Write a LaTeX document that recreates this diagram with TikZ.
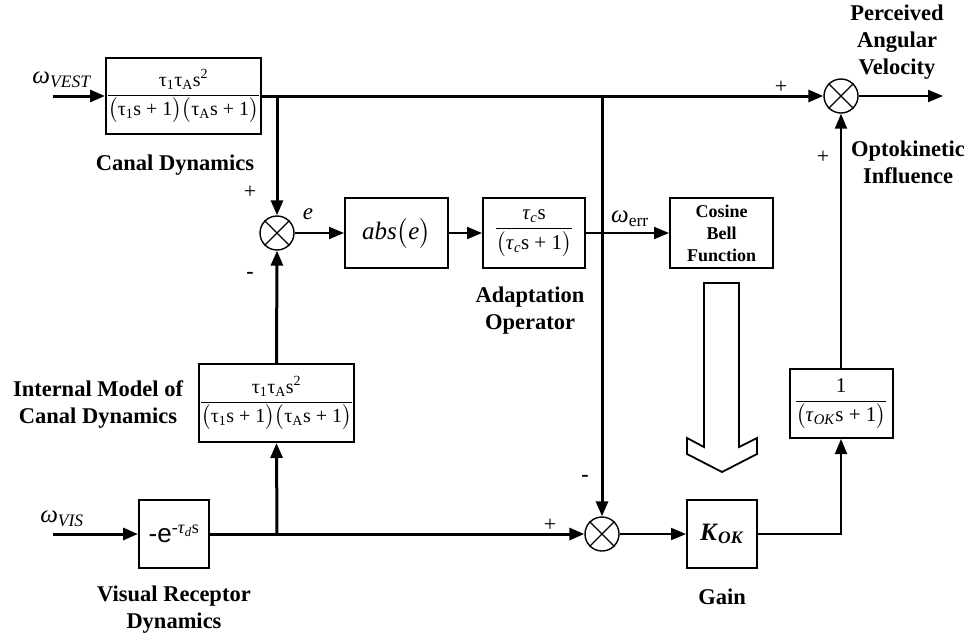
\documentclass[tikz,border=0pt]{standalone}
\usepackage{fontspec}
\usepackage{amsmath}
\setmainfont{Liberation Serif}
\newfontfamily\sansf{Liberation Sans}
\usetikzlibrary{arrows.meta}
\newcommand\myfr[2]{$\displaystyle\frac{#1}{#2}$}
\tikzset{
 blk/.style={draw, line width=2pt, inner sep=0pt, align=center},
 sumc/.style={draw, circle, line width=1.4pt, minimum size=34pt, inner sep=0pt},
 thk/.style={line width=3pt},
 thn/.style={line width=2pt},
 arr/.style={-{Triangle[length=15pt,width=12pt]}},
 lbl/.style={font=\fontsize{22.5}{27}\selectfont\bfseries, align=center, inner sep=0pt},
 sgn/.style={font=\fontsize{22}{22}\selectfont, inner sep=0pt},
 frac/.style={font=\fontsize{20}{22}\selectfont},
}
\begin{document}
\begin{tikzpicture}[x=1pt,y=-1pt]
\useasboundingbox (0,0) rectangle (976,638);
% blocks
\node[blk, frac, minimum width=155pt, minimum height=76pt] (canal) at (183.5,96)
  {\myfr{\text{τ\textsubscript{1}τ\textsubscript{A}s\textsuperscript{2}}}{\bigl(\text{τ\textsubscript{1}s + 1}\bigr)\bigl(\text{τ\textsubscript{A}s + 1}\bigr)}};
\node[sumc] (s1) at (277,233) {};
\node[blk, font=\fontsize{25}{27}\selectfont, minimum width=103pt, minimum height=70pt] (abs) at (396.5,233)
  {$\textit{abs}\bigl(\textit{e}\bigr)$};
\node[blk, font=\fontsize{21}{23}\selectfont, minimum width=102pt, minimum height=70pt] (tc) at (534,233)
  {\myfr{\text{\textit{τ}\textsubscript{\textit{c}}s}}{\bigl(\text{\textit{τ}\textsubscript{\textit{c}}s + 1}\bigr)}};
\node[blk, font=\fontsize{18}{22}\selectfont\bfseries, minimum width=103pt, minimum height=70pt] (cos) at (721.5,233)
  {Cosine\\Bell\\Function};
\node[sumc] (s3) at (841,96) {};
\node[blk, frac, minimum width=155pt, minimum height=78pt] (im) at (276.5,403)
  {\myfr{\text{τ\textsubscript{1}τ\textsubscript{A}s\textsuperscript{2}}}{\bigl(\text{τ\textsubscript{1}s + 1}\bigr)\bigl(\text{τ\textsubscript{A}s + 1}\bigr)}};
\node[blk, font=\fontsize{26}{28}\selectfont, minimum width=70pt, minimum height=68pt] (vis) at (174,534)
  {{\sansf -e}\textsuperscript{-\textit{τ}\textsubscript{\textit{d}}s}};
\node[sumc] (s2) at (602,534) {};
\node[blk, font=\fontsize{25}{27}\selectfont, minimum width=70pt, minimum height=68pt] (gain) at (722,534)
  {\textbf{\textit{K}}\textsubscript{\textbf{\textit{OK}}}};
\node[blk, font=\fontsize{21}{23}\selectfont, minimum width=103pt, minimum height=69pt] (ok) at (841,403.5)
  {\myfr{\text{1}}{\bigl(\text{\textit{τ}\textsubscript{\textit{OK}}s + 1}\bigr)}};
% cross in sum circles
\foreach \s in {s1,s2,s3}{
  \draw[line width=1.2pt] (\s.north west) -- (\s.south east) (\s.north east) -- (\s.south west);
}
% coordinates
\coordinate (vestin) at (53,96);
\coordinate (visin) at (53,534);
\coordinate (out) at (943,96);
\coordinate (j1) at (277,96);
\coordinate (j2) at (602,96);
\coordinate (j3) at (277,534);
% connectors
\draw[thk,arr] (vestin) -- (canal.west);
\draw[thk,arr] (canal.east) -- (s3.west);
\draw[thk,arr] (j1) -- (s1.north);
\draw[thk,arr] (j2) -- (s2.north);
\draw[thn,arr] (s1.east) -- (abs.west);
\draw[thn,arr] (abs.east) -- (tc.west);
\draw[thn,arr] (tc.east) -- (cos.west);
\draw[thk,arr] (visin) -- (vis.west);
\draw[thk,arr] (vis.east) -- (s2.west);
\draw[thk,arr] (j3) -- (im.south);
\draw[thk,arr] (im.north) -- (s1.south);
\draw[thn,arr] (s2.east) -- (gain.west);
\draw[thn,arr] (gain.east) -| (ok.south);
\draw[thn,arr] (ok.north) -- (s3.south);
\draw[thn,arr] (s3.east) -- (out);
% hollow arrow
\draw[line width=1.8pt, fill=white] (704,283) -- (704,447) -- (687,438) -- (687,454) -- (722,472)
  -- (757,454) -- (757,438) -- (739,447) -- (739,283) -- cycle;
% labels
\node[font=\fontsize{25}{25}\selectfont, inner sep=0pt] (lvest) at (62,80) {\textit{ω}\textsubscript{\textit{VEST}}};
\node[font=\fontsize{25}{25}\selectfont, inner sep=0pt] (lvis) at (62,519) {\textit{ω}\textsubscript{\textit{VIS}}};
\node[font=\fontsize{25}{25}\selectfont, inner sep=0pt] (lerr) at (630,219) {\textit{ω}\textsubscript{err}};
\node[font=\fontsize{23}{23}\selectfont, inner sep=0pt] (le) at (308,214) {\textit{e}};
\node[lbl] (lcanal) at (175,165) {Canal Dynamics};
\node[lbl] (lim) at (98,404) {Internal Model of\\Canal Dynamics};
\node[lbl] (lvisr) at (174,610) {Visual Receptor\\Dynamics};
\node[lbl] (ladapt) at (530,311) {Adaptation\\Operator};
\node[lbl] (lgain) at (722,597) {Gain};
\node[lbl] (lperc) at (897,42) {Perceived\\Angular\\Velocity};
\node[lbl] (lopto) at (908,162) {Optokinetic\\Influence};
\node[sgn] (p1) at (250,192) {+};
\node[sgn] (m1) at (250,275) {\textbf{-}};
\node[sgn] (p2) at (781,87) {+};
\node[sgn] (p3) at (823,157) {+};
\node[sgn] (p4) at (550,525) {+};
\node[sgn] (m2) at (585,478) {\textbf{-}};
\end{tikzpicture}
\end{document}
